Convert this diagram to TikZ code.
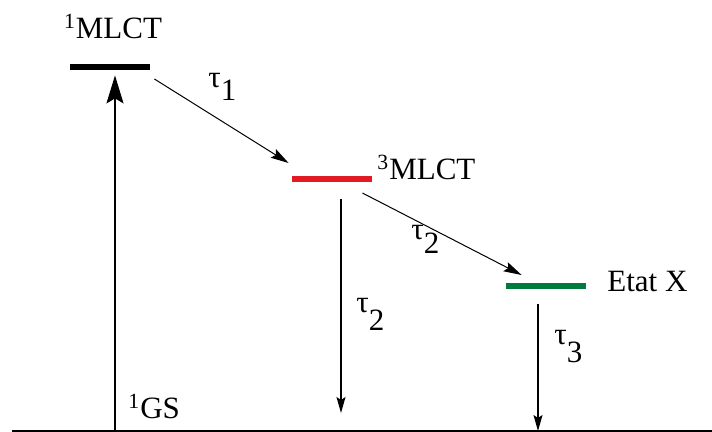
\documentclass[tikz,border=0pt]{standalone}
\usepackage{fontspec}
\setmainfont{Liberation Serif}
\usetikzlibrary{positioning, arrows.meta, calc}

\definecolor{mlctred}{RGB}{226,26,34}
\definecolor{etatgreen}{RGB}{0,122,61}

% tau con indice abbassato
\newcommand{\tauidx}[2][0.39em]{τ\raisebox{-#1}{#2}}

\begin{document}
\begin{tikzpicture}[x=0.5pt, y=-0.5pt, font=\fontsize{15.5}{18}\selectfont,
  level/.style={fill=#1, minimum width=40pt, minimum height=3pt, inner sep=0pt},
  lbl/.style={inner sep=0pt, anchor=base west},
  pump/.style={-{Stealth[length=14pt, width=8.5pt, inset=2.5pt]}, line width=1pt},
  decay/.style={-{Stealth[length=8pt, width=4.5pt, inset=1.5pt]}, line width=0.75pt},
  hop/.style={-{Stealth[length=9pt, width=5pt, inset=1.5pt]}, line width=0.5pt}]

  \useasboundingbox (0,0) rectangle (712,432);

  % --- Livelli ---
  \node[level=black] (s1) at (110,67) {};
  \node[level=mlctred] (s3) at (332,179) {};
  \node[level=etatgreen] (sx) at (546,286) {};

  % --- Stato fondamentale ---
  \coordinate (gl) at (12,431);
  \coordinate (gr) at (712,431);
  \draw[line width=0.6pt] (gl) -- (gr);

  % --- Etichette dei livelli ---
  \node[inner sep=0pt, above=12pt of s1, xshift=1.5pt] (t1) {\textsuperscript{1}MLCT};
  \node[lbl] (t3) at (377,180) {\textsuperscript{3}MLCT};
  \node[lbl] (tx) at (607,292) {Etat X};
  \node[lbl] (tg) at (128,419) {\textsuperscript{1}GS};

  % --- Transizioni ---
  \coordinate (g0) at (115,431);
  \coordinate (e3) at (341,413);
  \coordinate (ex) at (538,431);
  \draw[pump] (g0) -- ([xshift=2.5pt, yshift=-2.5pt]s1.south);
  \draw[hop] ([xshift=2pt, yshift=-6pt]s1.east)
    -- ([xshift=-1.5pt, yshift=8pt]s3.west);
  \draw[hop] ([xshift=-5pt, yshift=-7pt]s3.east)
    -- ([xshift=8pt, yshift=5.5pt]sx.west);
  \draw[decay] ([xshift=4.5pt, yshift=-8.5pt]s3.south) -- (e3);
  \draw[decay] ([xshift=-4pt, yshift=-7.5pt]sx.south) -- (ex);

  % --- Tempi di vita ---
  \node[lbl] (k1) at (208,88) {\tauidx{1}};
  \node[lbl] (k2) at (411,240) {\tauidx[0.42em]{2}};
  \node[lbl] (k2b) at (356,313) {\tauidx[0.55em]{2}};
  \node[lbl] (k3) at (554,345) {\tauidx[0.58em]{3}};

\end{tikzpicture}
\end{document}
